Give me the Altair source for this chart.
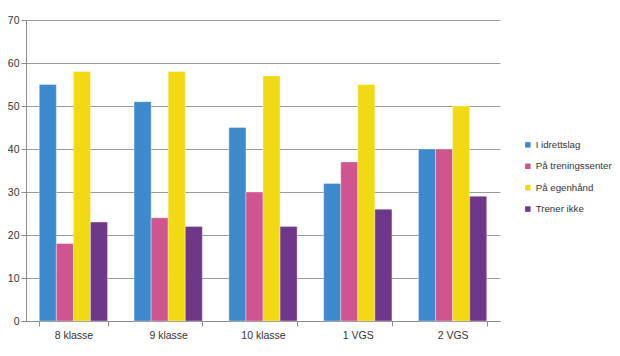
import altair as alt
import pandas as pd

categories = ["8 klasse", "9 klasse", "10 klasse", "1 VGS", "2 VGS"]
series = ["I idrettslag", "På treningssenter", "På egenhånd", "Trener ikke"]
i_idrettslag = [55, 51, 45, 32, 40]
pa_treningssenter = [18, 24, 30, 37, 40]
pa_egenhand = [58, 58, 57, 55, 50]
trener_ikke = [23, 22, 22, 26, 29]
y_ticks = [0, 10, 20, 30, 40, 50, 60, 70]
colors = ["#3C89CC", "#CF5490", "#F1D913", "#6F3789"]

rows = []
for s, vals in zip(series, [i_idrettslag, pa_treningssenter, pa_egenhand, trener_ikke]):
    for c, v in zip(categories, vals):
        rows.append({"Klasse": c, "Serie": s, "Verdi": v})
df = pd.DataFrame(rows)

FONT = "Liberation Sans"

chart = alt.Chart(df).mark_bar(
    stroke="white", strokeOpacity=0.35, strokeWidth=1
).encode(
    x=alt.X(
        "Klasse:N",
        sort=categories,
        scale=alt.Scale(paddingInner=0.28, paddingOuter=0.14),
        axis=alt.Axis(
            title=None, labelAngle=0, tickBand="extent", tickSize=5,
            tickColor="#8c8c8c", domainColor="#8c8c8c", labelFont=FONT,
            labelFontSize=10.5, labelColor="#333333", labelPadding=4, grid=False,
        ),
    ),
    xOffset=alt.XOffset("Serie:N", sort=series),
    y=alt.Y(
        "Verdi:Q",
        scale=alt.Scale(domain=[0, 70]),
        axis=alt.Axis(
            title=None, values=y_ticks, tickSize=5, tickColor="#8c8c8c",
            domainColor="#8c8c8c", gridColor="#9a9a9a", grid=True,
            labelFont=FONT, labelFontSize=10.5, labelColor="#333333",
            labelPadding=2,
        ),
    ),
    color=alt.Color(
        "Serie:N",
        sort=series,
        scale=alt.Scale(domain=series, range=colors),
        legend=alt.Legend(
            title=None, orient="none", legendX=497, legendY=120,
            symbolType="square", symbolSize=30, symbolStrokeWidth=0,
            labelFont=FONT, labelFontSize=9.7, labelColor="#333333",
            rowPadding=10.4, labelOffset=3, padding=0,
        ),
    ),
).properties(
    width=474, height=301, autosize="none",
    padding={"left": 18, "top": 12, "right": 112, "bottom": 27},
).configure_view(stroke=None)

chart.save("out.html", embed_options={"renderer": "svg", "actions": False})
